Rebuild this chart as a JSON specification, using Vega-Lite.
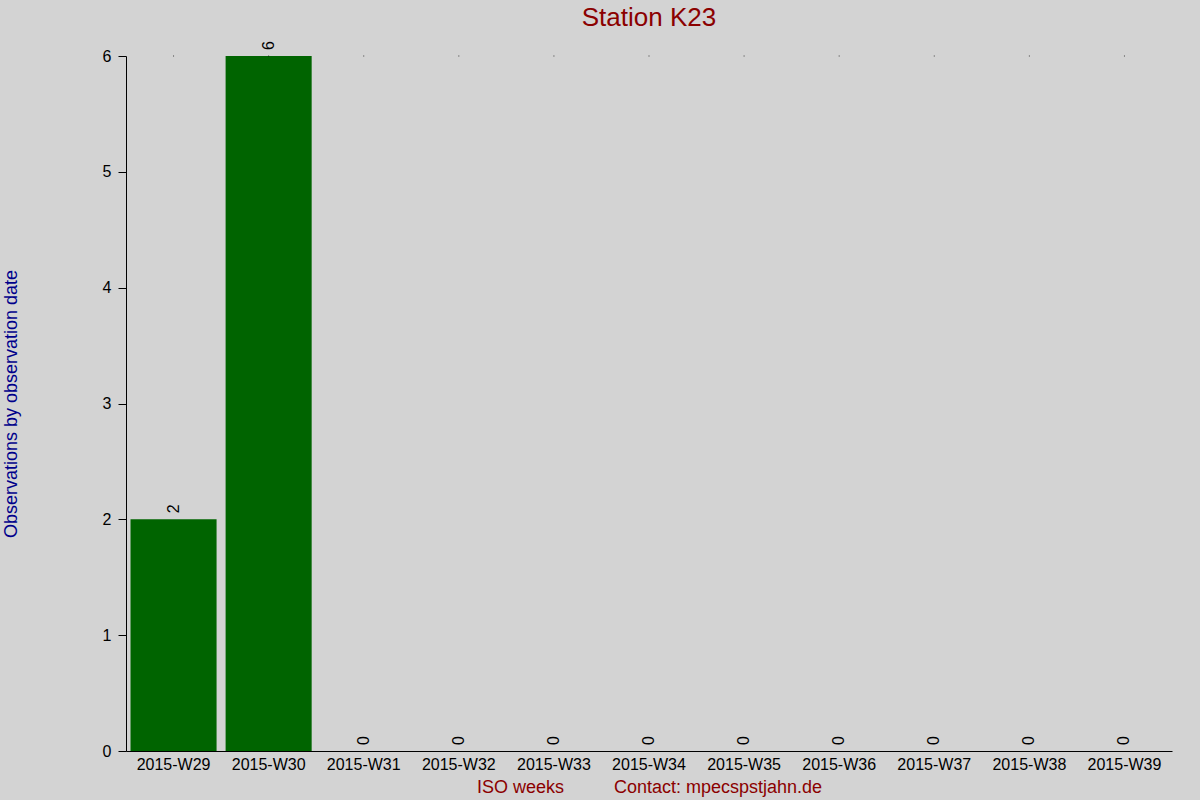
{
  "$schema": "https://vega.github.io/schema/vega-lite/v6.json",
  "autosize": "none",
  "padding": {"left": 126, "top": 56, "right": 28, "bottom": 49},
  "width": 1046,
  "height": 695,
  "background": "#d3d3d3",
  "config": {
    "view": {"stroke": null},
    "font": "Liberation Sans",
    "axis": {"labelFont": "Liberation Sans", "titleFont": "Liberation Sans", "labelColor": "#000000", "domainColor": "#000000", "tickColor": "#000000", "grid": false}
  },
  "title": {
    "text": "Station K23",
    "color": "#8b0000",
    "fontSize": 26,
    "fontWeight": "normal",
    "font": "Liberation Sans",
    "anchor": "middle",
    "offset": 10
  },
  "data": {
    "values": [
      {"week": "2015-W29", "count": 2},
      {"week": "2015-W30", "count": 6},
      {"week": "2015-W31", "count": 0},
      {"week": "2015-W32", "count": 0},
      {"week": "2015-W33", "count": 0},
      {"week": "2015-W34", "count": 0},
      {"week": "2015-W35", "count": 0},
      {"week": "2015-W36", "count": 0},
      {"week": "2015-W37", "count": 0},
      {"week": "2015-W38", "count": 0},
      {"week": "2015-W39", "count": 0}
    ]
  },
  "encoding": {
    "x": {
      "field": "week",
      "type": "nominal",
      "sort": null,
      "scale": {"paddingInner": 0.095, "paddingOuter": 0.0475},
      "axis": {
        "title": "ISO weeks\u00a0\u00a0\u00a0\u00a0\u00a0\u00a0\u00a0\u00a0\u00a0\u00a0Contact: mpecspstjahn.de",
        "titleColor": "#8b0000",
        "titleFontSize": 18,
        "titleFontWeight": "normal",
        "titlePadding": 6,
        "labelAngle": 0,
        "labelFontSize": 16,
        "labelPadding": 5,
        "ticks": false,
        "domainWidth": 1
      }
    },
    "y": {
      "field": "count",
      "type": "quantitative",
      "scale": {"domain": [0, 6], "nice": false},
      "axis": {
        "title": "Observations by observation date",
        "titleColor": "#00008b",
        "titleFontSize": 18,
        "titleFontWeight": "normal",
        "titlePadding": 82,
        "values": [0, 1, 2, 3, 4, 5, 6],
        "format": "d",
        "labelFontSize": 16,
        "tickSize": 8,
        "labelPadding": 7
      }
    }
  },
  "layer": [
    {
      "mark": {"type": "bar", "color": "#006400"}
    },
    {
      "mark": {"type": "text", "angle": 270, "align": "left", "baseline": "middle", "dx": 6, "fontSize": 16, "color": "#000000"},
      "encoding": {"text": {"field": "count", "type": "quantitative"}}
    },
    {
      "mark": {"type": "tick", "orient": "vertical", "color": "#000000", "size": 1, "thickness": 1},
      "encoding": {"y": {"datum": 6, "type": "quantitative"}}
    }
  ]
}
